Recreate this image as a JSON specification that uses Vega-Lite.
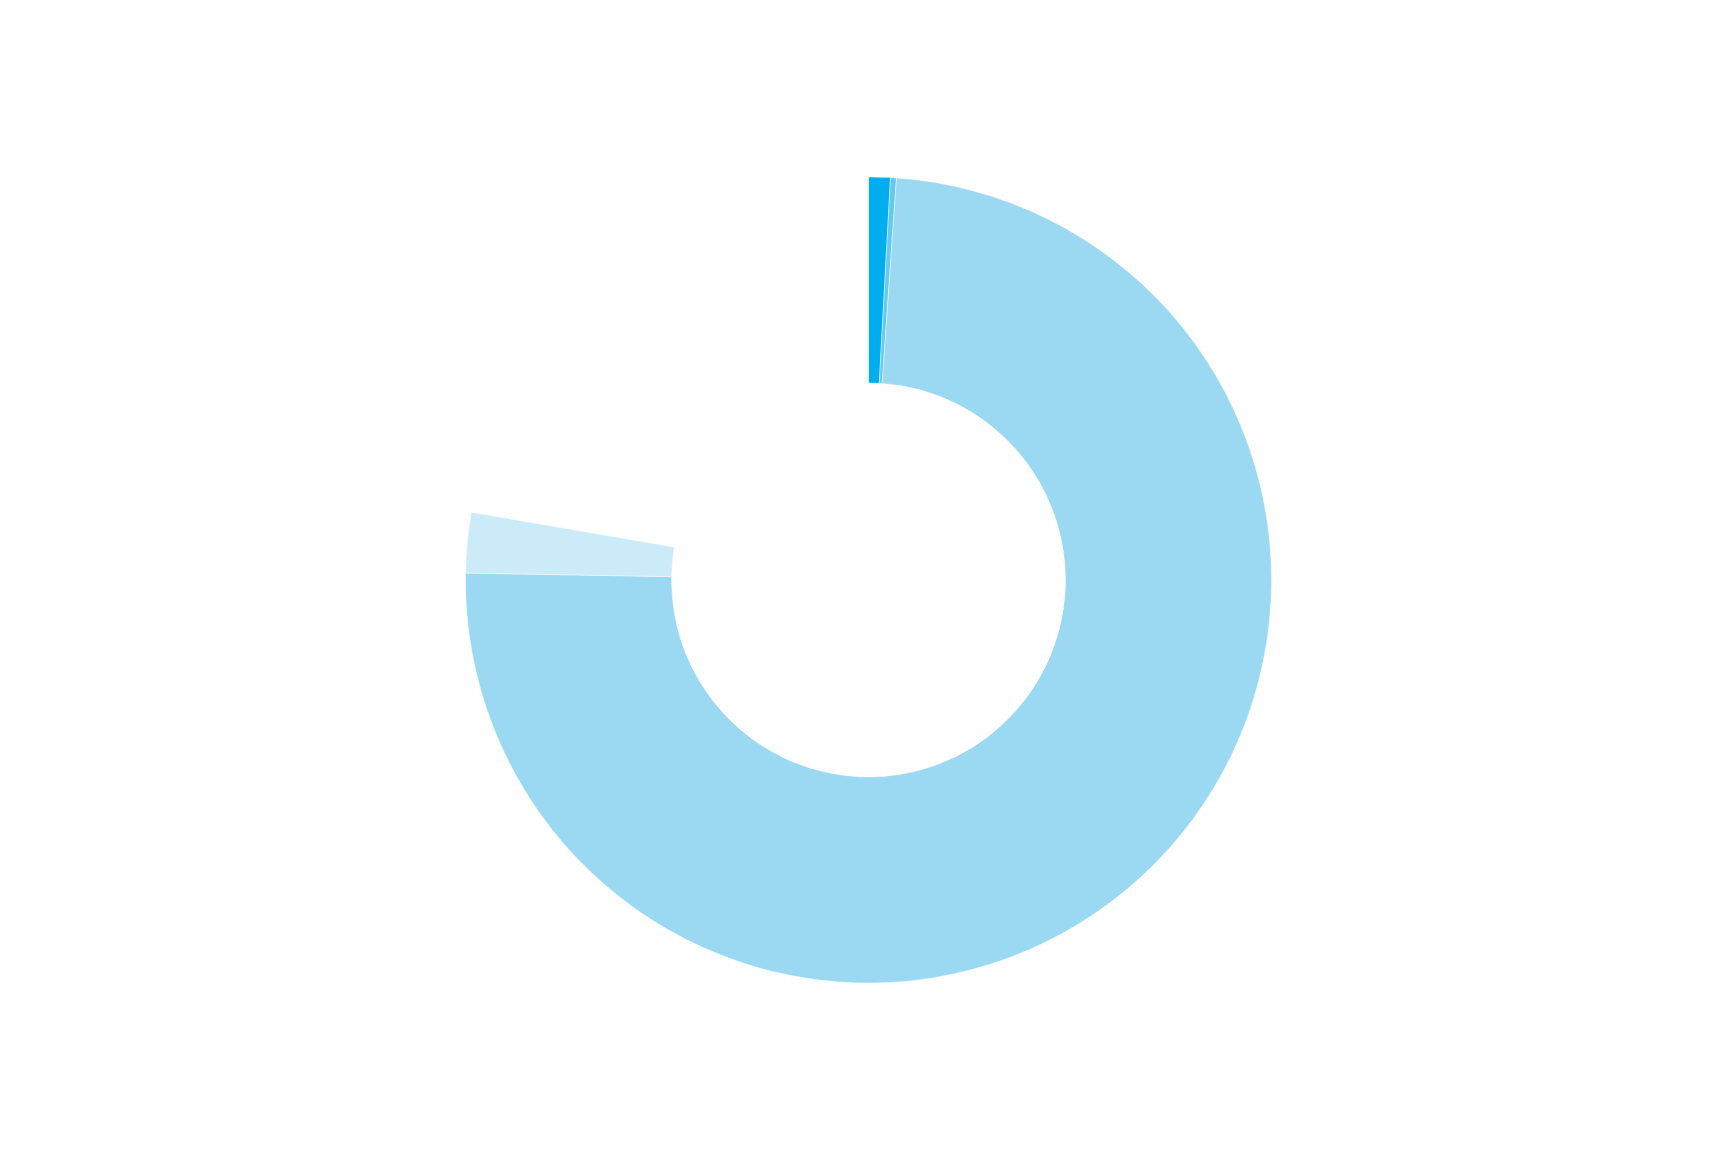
{
  "$schema": "https://vega.github.io/schema/vega-lite/v6.json",
  "autosize": {"type": "fit", "contains": "padding"},
  "width": 1713,
  "height": 1151,
  "padding": {"left": 24, "top": 9, "right": 0, "bottom": 0},
  "background": "white",
  "config": {"view": {"stroke": null}},
  "data": {
    "values": [
      {"category": "A", "value": 3.13, "rank": 1},
      {"category": "B", "value": 0.85, "rank": 2},
      {"category": "C", "value": 267.0, "rank": 3},
      {"category": "D", "value": 8.7, "rank": 4},
      {"category": "Rest", "value": 80.32, "rank": 5}
    ]
  },
  "mark": {"type": "arc", "outerRadius": 403, "innerRadius": 197, "stroke": "white", "strokeWidth": 0.4},
  "encoding": {
    "theta": {"field": "value", "type": "quantitative", "stack": true},
    "order": {"field": "rank", "type": "quantitative"},
    "color": {
      "field": "category",
      "type": "nominal",
      "scale": {"domain": ["A", "B", "C", "D", "Rest"], "range": ["#00AEEF", "#66C9F0", "#9BD9F3", "#CCEBF8", "rgba(255,255,255,0)"]},
      "legend": null
    }
  }
}
